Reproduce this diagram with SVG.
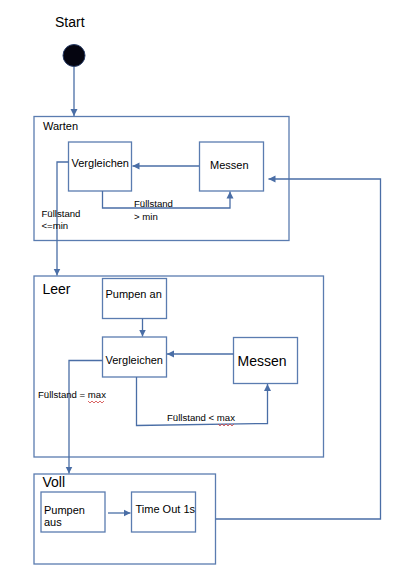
<svg xmlns="http://www.w3.org/2000/svg" width="400" height="568" viewBox="0 0 400 568">
<defs>
<style>
.box{fill:#fff;stroke:#5a7cb0;stroke-width:1.3}
.ln{fill:none;stroke:#4a6ea6;stroke-width:1.3}
.t{font-family:"Liberation Sans",Arial,sans-serif;font-size:11px;fill:#000}
.lb{font-family:"Liberation Sans",Arial,sans-serif;font-size:9.6px;fill:#000}
.tl{font-family:"Liberation Sans",Arial,sans-serif;font-size:14px;fill:#000}
.sq{fill:none;stroke:#d04040;stroke-width:0.8}
</style>
<marker id="ah" markerWidth="8" markerHeight="8" refX="7" refY="4" orient="auto" markerUnits="userSpaceOnUse">
<path d="M0,0.5 L7,4 L0,7.5 Z" fill="#4a6ea6"/>
</marker>
</defs>
<rect width="400" height="568" fill="#fff"/>
<g id="start">
<text class="tl" x="55" y="27">Start</text>
<circle cx="74" cy="55.5" r="11" fill="#050510" stroke="#2a3f6a" stroke-width="1"/>
</g>
<g id="warten">
<rect class="box" x="34" y="116.5" width="255" height="124"/>
<text class="t" x="43" y="130">Warten</text>
</g>
<g id="vergleichen1">
<rect class="box" x="68.5" y="142" width="63" height="49"/>
<text class="t" x="71.5" y="166.5">Vergleichen</text>
</g>
<g id="messen1">
<rect class="box" x="199.5" y="142" width="64" height="49"/>
<text class="t" x="210" y="169">Messen</text>
</g>
<g id="leer">
<rect class="box" x="34" y="276" width="289.5" height="181"/>
<text class="tl" x="42.5" y="294">Leer</text>
</g>
<g id="pumpen-an">
<rect class="box" x="102.5" y="278.5" width="64" height="40"/>
<text class="t" x="105.5" y="298">Pumpen an</text>
</g>
<g id="vergleichen2">
<rect class="box" x="102.5" y="337" width="64" height="40"/>
<text class="t" x="105.5" y="364">Vergleichen</text>
</g>
<g id="messen2">
<rect class="box" x="233.5" y="337.5" width="64" height="46"/>
<text class="tl" x="237.5" y="366">Messen</text>
</g>
<g id="voll">
<rect class="box" x="34" y="474" width="181.5" height="90"/>
<text class="tl" x="42.5" y="487">Voll</text>
</g>
<g id="pumpen-aus">
<rect class="box" x="41" y="492" width="64" height="40"/>
<text class="t" x="44" y="513.5">Pumpen</text>
<text class="t" x="44" y="525.5">aus</text>
</g>
<g id="timeout">
<rect class="box" x="131.5" y="492" width="64" height="40"/>
<text class="t" x="135.5" y="512.5">Time Out 1s</text>
</g>
<g id="connectors">
<path class="ln" d="M74,67 V116" marker-end="url(#ah)"/>
<path class="ln" d="M199,166 H132.5" marker-end="url(#ah)"/>
<path class="ln" d="M102.5,191 V208 H230 V191.5" marker-end="url(#ah)"/>
<path class="ln" d="M68.5,162 H57 V275.5" marker-end="url(#ah)"/>
<path class="ln" d="M142.5,318.5 V336.5" marker-end="url(#ah)"/>
<path class="ln" d="M233.5,354 H167" marker-end="url(#ah)"/>
<path class="ln" d="M136.5,377 V425.5 L267.5,423.5 V384" marker-end="url(#ah)"/>
<path class="ln" d="M102.5,360.5 H69 V473.5" marker-end="url(#ah)"/>
<path class="ln" d="M108,513 H130.5" marker-end="url(#ah)"/>
<path class="ln" d="M215.5,519 H380.5 V179 H268.5" marker-end="url(#ah)"/>
</g>
<g id="labels">
<text class="lb" x="134" y="207">Füllstand</text>
<text class="lb" x="134" y="219.5">&gt; min</text>
<text class="lb" x="41.5" y="217">Füllstand</text>
<text class="lb" x="41.5" y="228.5">&lt;=min</text>
<text class="lb" x="38" y="398">Füllstand = max</text>
<text class="lb" x="167" y="420.5">Füllstand &lt; max</text>
<path class="sq" d="M88,401 l2,2 l2,-2 l2,2 l2,-2 l2,2 l2,-2 l2,2 l2,-2"/>
<path class="sq" d="M218,424 l2,2 l2,-2 l2,2 l2,-2 l2,2 l2,-2 l2,2 l2,-2"/>
</g>
</svg>
